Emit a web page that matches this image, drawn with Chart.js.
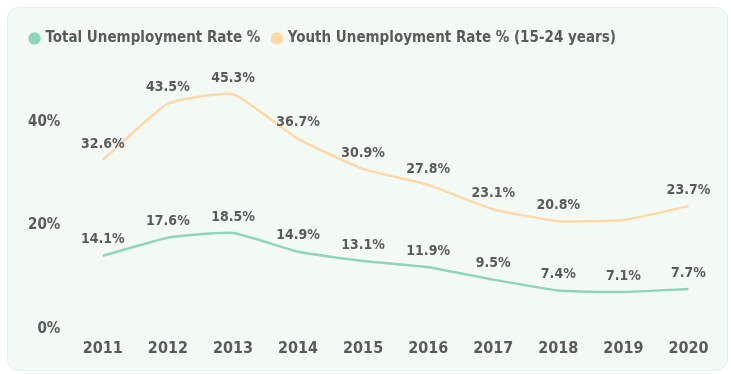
<!DOCTYPE html>
<html>
<head>
<meta charset="utf-8">
<script src="https://cdn.jsdelivr.net/npm/chart.js@4/dist/chart.umd.min.js"></script>
<style>
  html, body { margin: 0; padding: 0; background: #ffffff; }
  .card {
    position: absolute; left: 7px; top: 7px; width: 721px; height: 364px;
    background: #f3faf6; border: 1px solid #e4efe8; border-radius: 12px;
    box-sizing: border-box; overflow: hidden;
  }
  canvas { display: block; }
</style>
</head>
<body>
<div class="card"><canvas id="unempChart" width="719" height="362"></canvas></div>
<script>
// data
const years = ['2011', '2012', '2013', '2014', '2015', '2016', '2017', '2018', '2019', '2020'];
const totalRate = [14.1, 17.6, 18.5, 14.9, 13.1, 11.9, 9.5, 7.4, 7.1, 7.7];
const youthRate = [32.6, 43.5, 45.3, 36.7, 30.9, 27.8, 23.1, 20.8, 21.0, 23.7];
// the 2019 youth label is not shown in the original
const youthLabelShown = [true, true, true, true, true, true, true, true, false, true];
const totalLabelShown = [true, true, true, true, true, true, true, true, true, true];
const yTicks = [0, 20, 40];

const FONT = "'DejaVu Sans Condensed', 'DejaVu Sans', sans-serif";
const TEXT = '#5a5a5a';

// simple value labels above each point
const pointLabels = {
  id: 'pointLabels',
  afterDatasetsDraw(chart) {
    const ctx = chart.ctx;
    ctx.save();
    ctx.font = `bold 14px ${FONT}`;
    ctx.fillStyle = TEXT;
    ctx.textAlign = 'center';
    ctx.textBaseline = 'bottom';
    chart.data.datasets.forEach((ds, i) => {
      const meta = chart.getDatasetMeta(i);
      meta.data.forEach((pt, j) => {
        if (!ds.labelShown[j]) return;
        ctx.fillText(ds.data[j].toFixed(1) + '%', pt.x, pt.y - 9);
      });
    });
    ctx.restore();
  }
};

// extra room under the legend
const legendGap = {
  id: 'legendGap',
  beforeInit(chart) {
    const origFit = chart.legend.fit;
    chart.legend.fit = function () {
      origFit.bind(chart.legend)();
      this.height += 14;
    };
  }
};

new Chart(document.getElementById('unempChart').getContext('2d'), {
  type: 'line',
  data: {
    labels: years,
    datasets: [{
      label: 'Total Unemployment Rate %',
      data: totalRate,
      labelShown: totalLabelShown,
      borderColor: '#8fd5b9',
      backgroundColor: '#8fd5b9',
      borderWidth: 2.5,
      pointRadius: 0,
      tension: 0.15
    }, {
      label: 'Youth Unemployment Rate % (15-24 years)',
      data: youthRate,
      labelShown: youthLabelShown,
      borderColor: '#fcd9a6',
      backgroundColor: '#fcd9a6',
      borderWidth: 2.5,
      pointRadius: 0,
      tension: 0.15
    }]
  },
  options: {
    responsive: false,
    animation: false,
    layout: { padding: { left: 10, right: 6, top: 10, bottom: 2 } },
    plugins: {
      legend: {
        align: 'start',
        labels: {
          usePointStyle: true,
          pointStyle: 'circle',
          boxWidth: 7,
          boxHeight: 7,
          padding: 13,
          color: TEXT,
          font: { family: FONT, size: 15, weight: 'bold' }
        }
      },
      tooltip: { enabled: false }
    },
    scales: {
      x: {
        offset: true,
        grid: { display: false, drawTicks: false },
        border: { display: false },
        ticks: { color: TEXT, padding: 10, font: { family: FONT, size: 16, weight: 'bold' } }
      },
      y: {
        min: 0,
        max: 50,
        grid: { display: false, drawTicks: false },
        border: { display: false },
        afterBuildTicks: axis => { axis.ticks = yTicks.map(v => ({ value: v })); },
        ticks: { color: TEXT, padding: 10, font: { family: FONT, size: 15, weight: 'bold' }, callback: v => v + '%' }
      }
    }
  },
  plugins: [pointLabels, legendGap]
});
</script>
</body>
</html>
